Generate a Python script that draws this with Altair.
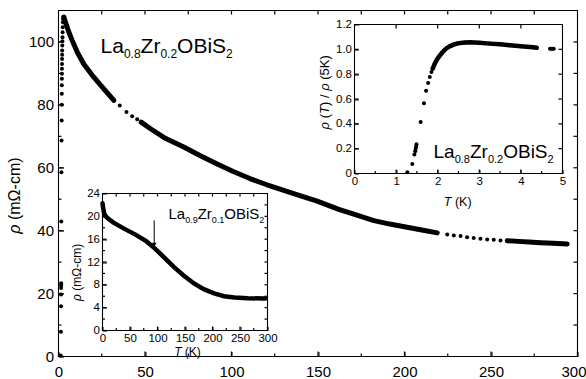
import altair as alt
import pandas as pd

FONT = "Liberation Sans"

# ---------------- data ----------------
# main panel: La0.8Zr0.2OBiS2, rho (mOhm-cm) vs T (K)
main_trans_T = [1.30, 1.42, 1.48, 1.50, 1.51, 1.52, 1.53, 1.62, 1.70, 1.77, 1.82, 1.87, 1.90, 1.93,
                1.96, 1.98, 2.00, 2.03, 2.06, 2.10, 2.14, 2.19, 2.24, 2.30, 2.37, 2.45, 2.55, 2.65, 2.80]
main_trans_rho = [0.3, 7.9, 16.0, 19.7, 21.8, 22.6, 23.3, 42.9, 58.6, 68.7, 75.0, 80.0, 83.5, 86.2,
                  88.3, 89.9, 91.5, 93.0, 94.6, 95.9, 97.3, 98.9, 100.2, 101.5, 103.1, 104.7, 106.3, 107.3, 107.9]
main_s1_T = [3.1, 4.0, 6.0, 7.9, 10.8, 14.6, 20.4, 26.2, 32.0]
main_s1_rho = [107.9, 106.3, 103.1, 100.5, 96.8, 93.0, 88.8, 85.1, 81.4]
main_d1_T = [35.4, 39.3, 42.6, 45.5]
main_d1_rho = [79.8, 77.7, 76.4, 75.4]
main_s2_T = [47.8, 53.2, 62.0, 72.4, 82.0, 91.7, 101.0, 111.0, 120.5, 130.2, 140.0, 149.5,
             162.0, 172.0, 182.3, 191.5, 201.5, 210.0, 218.9]
main_s2_rho = [74.5, 72.4, 69.3, 66.6, 63.8, 61.2, 58.8, 56.5, 54.6, 52.8, 51.1, 49.4,
               46.8, 45.0, 43.2, 42.1, 41.1, 40.2, 39.3]
main_d2_T = [224.7, 228.5, 232.4, 236.2, 240.0, 243.9, 247.8, 251.6, 255.5]
main_d2_rho = [38.8, 38.5, 38.3, 37.9, 37.7, 37.4, 37.2, 37.1, 36.9]
main_s3_T = [259.4, 266.0, 272.0, 278.6, 286.0, 294.0]
main_s3_rho = [36.8, 36.6, 36.4, 36.2, 36.0, 35.8]

# inset 1: rho(T)/rho(5K) vs T, 0-5 K
in1_trans_T = [1.27, 1.39, 1.44, 1.46, 1.47, 1.48, 1.49, 1.59, 1.67, 1.72, 1.77, 1.81, 1.85]
in1_trans_r = [0.01, 0.076, 0.154, 0.18, 0.20, 0.215, 0.235, 0.415, 0.566, 0.666, 0.728, 0.777, 0.817]
in1_s_T = [1.88, 1.93, 1.98, 2.04, 2.10, 2.16, 2.22, 2.30, 2.38, 2.46, 2.54, 2.66, 2.78,
           3.00, 3.25, 3.50, 3.73, 4.00, 4.29, 4.38]
in1_s_r = [0.845, 0.885, 0.917, 0.945, 0.970, 0.992, 1.011, 1.026, 1.038, 1.046, 1.051, 1.055, 1.057,
           1.053, 1.046, 1.040, 1.033, 1.025, 1.016, 1.012]
in1_end_T = [4.70, 4.73, 4.76, 4.79]
in1_end_r = [1.005, 1.005, 1.005, 1.005]

# inset 2: La0.9Zr0.1OBiS2, rho vs T
in2_T = [0, 1, 3, 6, 10, 20, 40, 60, 80, 95, 112, 130, 148, 167, 185, 203, 221, 240, 264, 296]
in2_rho = [22.3, 21.5, 20.5, 20.0, 19.6, 18.9, 17.8, 16.8, 15.6, 14.4, 12.8, 11.1, 9.6, 8.2,
           7.2, 6.5, 6.0, 5.8, 5.65, 5.6]
arrow_T = [94]
arrow_from = [19.3]
arrow_to = [15.0]

# tick values
main_x_major = [0, 50, 100, 150, 200, 250, 300]
main_x_minor = [25, 75, 125, 175, 225, 275]
main_x_top = [25, 50, 75, 100, 125, 150, 175, 200, 225, 250, 275]
main_y_major = [0, 20, 40, 60, 80, 100]
main_y_minor = [10, 30, 50, 70, 90]
main_y_right = [10, 20, 30, 40, 50, 60, 70, 80, 90, 100]
in1_x_major = [0, 1, 2, 3, 4, 5]
in1_x_minor = [0.5, 1.5, 2.5, 3.5, 4.5]
in1_x_top = [1, 2, 3, 4]
in1_y_major = [0, 0.2, 0.4, 0.6, 0.8, 1.0, 1.2]
in1_y_inner = [0.2, 0.4, 0.6, 0.8, 1.0]
in2_x_major = [0, 50, 100, 150, 200, 250, 300]
in2_x_minor = [25, 75, 125, 175, 225, 275]
in2_x_top = [25, 50, 75, 100, 125, 150, 175, 200, 225, 250, 275]
in2_y_major = [0, 4, 8, 12, 16, 20, 24]
in2_y_minor = [2, 6, 10, 14, 18, 22]
in2_y_right = [2, 4, 6, 8, 10, 12, 14, 16, 18, 20, 22]

# ---------------- frames (plot-area pixel layout) ----------------
W, H = 519, 346
SYS = {
    "main": {"x": ([0, 300], [0, W]), "y": ([0, 110], [H, 0])},
    "in1": {"x": ([0, 5], [296, 504]), "y": ([0, 1.2], [163, 14])},
    "in2": {"x": ([0, 300], [44, 209]), "y": ([0, 24], [320, 183])},
}
EDGE = {
    "main": {"bottom": 0, "left": 0, "top": 0, "right": 0},
    "in1": {"bottom": 163 - H, "left": -296, "top": -14, "right": 504 - W},
    "in2": {"bottom": 320 - H, "left": -44, "top": -183, "right": 209 - W},
}


def sc(sys, ch):
    d, r = SYS[sys][ch]
    return alt.Scale(domain=d, range=r, nice=False, zero=False)


def lab_axis(sys, orient, values, size, fs=11, pad=3, expr=None, loff=None):
    kw = dict(orient=orient, values=values, tickSize=size, offset=EDGE[sys][orient] - size,
              labels=True, domain=False, ticks=True, tickColor="black", tickWidth=1,
              grid=False, title=None,
              labelFont=FONT, labelFontSize=fs, labelColor="black",
              labelPadding=pad, labelFlush=False, labelOverlap=False)
    if expr:
        kw["labelExpr"] = expr
    if loff is not None:
        kw["labelOffset"] = loff
    return alt.Axis(**kw)


def XY(sys, xf, yf, xa=None, ya=None):
    return dict(
        x=alt.X(xf, type="quantitative", scale=sc(sys, "x"), axis=xa),
        y=alt.Y(yf, type="quantitative", scale=sc(sys, "y"), axis=ya),
    )


def ticks(sys, side, values, length):
    (x0, x1), _ = SYS[sys]["x"]
    (y0, y1), _ = SYS[sys]["y"]
    if side in ("bottom", "top"):
        e = y0 if side == "bottom" else y1
        df = pd.DataFrame({"v": values, "e": [e] * len(values)})
        return alt.Chart(df).mark_tick(
            orient="vertical", size=length, thickness=1.2, color="black", opacity=1,
            yOffset=-length / 2 if side == "bottom" else length / 2).encode(
            **XY(sys, "v", "e"))
    e = x0 if side == "left" else x1
    df = pd.DataFrame({"v": values, "e": [e] * len(values)})
    return alt.Chart(df).mark_tick(
        orient="horizontal", size=length, thickness=1.2, color="black", opacity=1,
        xOffset=length / 2 if side == "left" else -length / 2).encode(
        **XY(sys, "e", "v"))


def frame(sys):
    (x0, x1), _ = SYS[sys]["x"]
    (y0, y1), _ = SYS[sys]["y"]
    df = pd.DataFrame({"x0": [x0], "x1": [x1], "y0": [y0], "y1": [y1]})
    return alt.Chart(df).mark_rect(stroke="black", strokeWidth=1.1, fill="white", fillOpacity=0).encode(
        x=alt.X("x0:Q", scale=sc(sys, "x"), axis=None),
        x2="x1:Q",
        y=alt.Y("y0:Q", scale=sc(sys, "y"), axis=None),
        y2="y1:Q")


# Arial / Liberation Sans advance widths (per 1000 em)
WID = {"L": 556, "a": 556, "Z": 611, "r": 333, "O": 778, "B": 667, "i": 222, "S": 667,
       ".": 278, "T": 611, " ": 278, "(": 333, ")": 333, "K": 667, "m": 833, "Ω": 768,
       "-": 333, "c": 500, "ρ": 578, "/": 278}
DUMMY = alt.Data(values=[{"k": 0}])


def tw(t, fs):
    return sum(WID.get(c, 556) for c in t) / 1000 * fs


def rich(sys, xv, yv, pieces, angle=0, center=False):
    widths = [tw(t, fs) for t, fs, _, _ in pieces]
    cum = -sum(widths) / 2 if center else 0
    out = []
    for (t, fs, it, dy), wd in zip(pieces, widths):
        lead = len(t) - len(t.lstrip(" "))
        shown = t.strip(" ")
        props = dict(text=shown, align="left", baseline="alphabetic", dx=cum + tw(" " * lead, fs),
                     dy=dy, fontSize=fs, font=FONT, color="black",
                     fontStyle="italic" if it else "normal")
        if angle:
            props["angle"] = angle
        out.append(alt.Chart(DUMMY).mark_text(**props).encode(
            x=alt.XDatum(xv, type="quantitative", scale=sc(sys, "x"), axis=None),
            y=alt.YDatum(yv, type="quantitative", scale=sc(sys, "y"), axis=None)))
        cum += wd
    return out


# ---------------- tables ----------------
rows = []
for T, r in zip(main_trans_T, main_trans_rho):
    rows.append((T, r, "dot"))
for T, r in zip(main_s1_T, main_s1_rho):
    rows.append((T, r, "s1"))
for T, r in zip(main_d1_T, main_d1_rho):
    rows.append((T, r, "dot"))
for T, r in zip(main_s2_T, main_s2_rho):
    rows.append((T, r, "s2"))
for T, r in zip(main_d2_T, main_d2_rho):
    rows.append((T, r, "dot"))
for T, r in zip(main_s3_T, main_s3_rho):
    rows.append((T, r, "s3"))
main_df = pd.DataFrame(rows, columns=["T", "rho", "seg"])

rows = []
for T, r in zip(in1_trans_T, in1_trans_r):
    rows.append((T, r, "dot"))
for T, r in zip(in1_s_T, in1_s_r):
    rows.append((T, r, "s"))
for T, r in zip(in1_end_T, in1_end_r):
    rows.append((T, r, "dot"))
in1_df = pd.DataFrame(rows, columns=["T", "r", "seg"])

in2_df = pd.DataFrame({"T": in2_T, "rho": in2_rho})
arrow_df = pd.DataFrame({"T": arrow_T, "a": arrow_from, "b": arrow_to})

layers = []

# ----- main panel -----
layers.append(frame("main"))
layers += [ticks("main", "bottom", main_x_major, 5), ticks("main", "bottom", main_x_minor, 3),
           ticks("main", "top", main_x_top, 4),
           ticks("main", "left", main_y_major, 5), ticks("main", "left", main_y_minor, 3),
           ticks("main", "right", main_y_right, 4)]
layers.append(alt.Chart(main_df).transform_filter("datum.seg != 'dot'").mark_line(
    color="black", strokeWidth=5, strokeCap="round", strokeJoin="round").encode(
    detail="seg:N", **XY("main", "T", "rho")))
layers.append(alt.Chart(main_df).mark_circle(size=16, color="black", opacity=1).encode(
    **XY("main", "T", "rho",
         lab_axis("main", "bottom", main_x_major, 5, fs=15, pad=8,
                  loff={"condition": {"test": "datum.value == 300", "value": -4}, "value": 0}),
         lab_axis("main", "left", main_y_major, 5, fs=15, pad=5))))

# ----- inset 1 (upper right) -----
layers.append(frame("in1"))
layers += [ticks("in1", "bottom", in1_x_major, 4), ticks("in1", "bottom", in1_x_minor, 2.5),
           ticks("in1", "top", in1_x_top, 4),
           ticks("in1", "left", in1_y_inner, 4), ticks("in1", "right", in1_y_inner, 4)]
layers.append(alt.Chart(in1_df).transform_filter("datum.seg != 'dot'").mark_line(
    color="black", strokeWidth=4.5, strokeCap="round").encode(**XY("in1", "T", "r")))
layers.append(alt.Chart(in1_df).mark_circle(size=16, color="black", opacity=1).encode(
    **XY("in1", "T", "r",
         lab_axis("in1", "bottom", in1_x_major, 4, fs=11.5, pad=2),
         lab_axis("in1", "left", in1_y_major, 4, fs=11.5, pad=3,
                  expr="datum.value == 0 ? '0' : format(datum.value, '.1f')"))))

# ----- inset 2 (lower left) -----
layers.append(frame("in2"))
layers += [ticks("in2", "bottom", in2_x_major, 4), ticks("in2", "bottom", in2_x_minor, 2.5),
           ticks("in2", "top", in2_x_top, 3),
           ticks("in2", "left", in2_y_major, 4), ticks("in2", "left", in2_y_minor, 2.5),
           ticks("in2", "right", in2_y_right, 3)]
layers.append(alt.Chart(in2_df).mark_line(color="black", strokeWidth=4.5, strokeCap="round").encode(
    **XY("in2", "T", "rho",
         lab_axis("in2", "bottom", in2_x_major, 4, fs=11.5, pad=2),
         lab_axis("in2", "left", in2_y_major, 4, fs=11.5, pad=3))))
layers.append(alt.Chart(arrow_df).mark_rule(color="black", strokeWidth=1).encode(
    y2="b:Q", **XY("in2", "T", "a")))
layers.append(alt.Chart(arrow_df).mark_point(shape="triangle-down", filled=True, size=22,
                                             color="black", opacity=1).encode(
    **XY("in2", "T", "b")))

# ----- texts -----
layers += rich("main", 24.3, 96.4,
               [("La", 21, False, 0), ("0.8", 12, False, 5), ("Zr", 21, False, 0),
                ("0.2", 12, False, 5), ("OBiS", 21, False, 0), ("2", 12, False, 5)])
layers += rich("in1", 1.90, 0.122,
               [("La", 19, False, 0), ("0.8", 11, False, 5), ("Zr", 19, False, 0),
                ("0.2", 11, False, 5), ("OBiS", 19, False, 0), ("2", 11, False, 5)])
layers += rich("in2", 120, 19.45,
               [("La", 15, False, 0), ("0.9", 9, False, 4), ("Zr", 15, False, 0),
                ("0.1", 9, False, 4), ("OBiS", 15, False, 0), ("2", 9, False, 4)])
# axis titles
layers += rich("main", -22.0, 51.2, [("ρ", 16, True, 0), (" (mΩ-cm)", 16, False, 0)],
               angle=270, center=True)
layers += rich("in1", -0.625, 0.654,
               [("ρ", 13, True, 0), (" (", 13, False, 0), ("T", 13, True, 0), (") / ", 13, False, 0),
                ("ρ", 13, True, 0), (" (5K)", 13, False, 0)], angle=270, center=True)
layers += rich("in1", 2.48, -0.265, [("T", 12.5, True, 0), (" (K)", 12.5, False, 0)], center=True)
layers += rich("in2", -40, 10.2, [("ρ", 12, True, 0), (" (mΩ-cm)", 12, False, 0)],
               angle=270, center=True)
layers += rich("in2", 154.5, -4.55, [("T", 12, True, 0), (" (K)", 12, False, 0)], center=True)

chart = alt.layer(*layers).resolve_scale(x="independent", y="independent").properties(
    width=W, height=H,
    autosize=alt.AutoSizeParams(type="none"),
    padding={"left": 58.5, "top": 10.5, "right": 8.5, "bottom": 22.5},
    background="white",
).configure_view(stroke=None)

chart.save("out.html", embed_options={"renderer": "svg", "actions": False})
